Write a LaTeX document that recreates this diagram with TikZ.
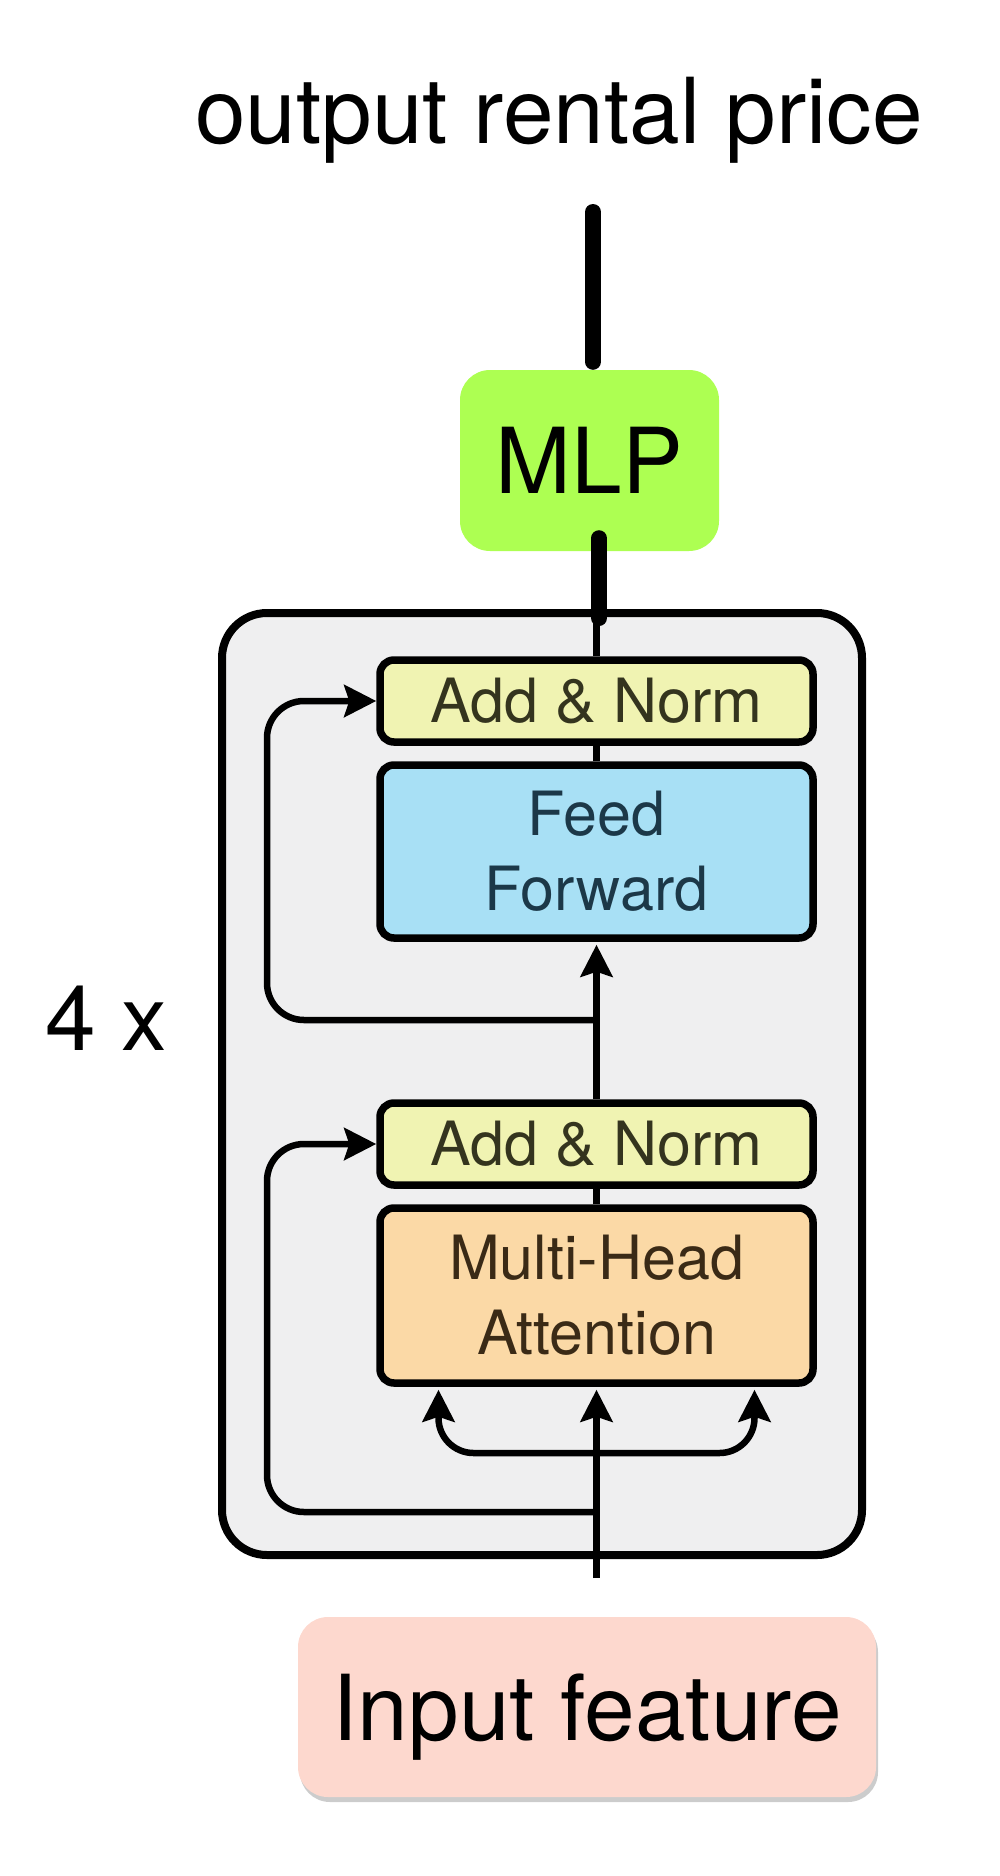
\documentclass[tikz,border=0pt]{standalone}
\usepackage{fontspec}
\setmainfont{TeX Gyre Heros}
\usetikzlibrary{arrows.meta,shadows}
\definecolor{encfill}{RGB}{239,239,240}
\definecolor{anfill}{RGB}{240,243,178}
\definecolor{fffill}{RGB}{168,224,245}
\definecolor{mhafill}{RGB}{251,217,166}
\definecolor{mlpfill}{RGB}{173,255,82}
\definecolor{inpfill}{RGB}{253,216,206}
\definecolor{antext}{RGB}{52,52,30}
\definecolor{fftext}{RGB}{28,56,72}
\definecolor{mhatext}{RGB}{58,42,22}
\begin{document}
\begin{tikzpicture}[x=1pt,y=-1pt,
  bigfont/.style={font=\fontsize{91}{100}\selectfont},
  smallfont/.style={font=\fontsize{61}{75}\selectfont},
  encoder/.style={draw=black, fill=encfill, line width=8pt, rounded corners=45pt,
    minimum width=640pt, minimum height=942pt, inner sep=0pt},
  subbox/.style={draw=black, line width=7.5pt, rounded corners=14pt,
    minimum width=433pt, align=center, inner sep=0pt, smallfont},
  conn/.style={line width=6.5pt},
  arr/.style={conn, -{Stealth[length=32pt,width=32pt,inset=5pt]}},
  thickline/.style={line width=16pt, line cap=round}
]
\useasboundingbox (0,0) rectangle (1000,1876);

% texts
\node[bigfont, anchor=base] (out) at (559,143) {output rental price};
\node[bigfont, anchor=base west, inner sep=0pt] (four) at (45,1050) {4 x};

% MLP
\node[fill=mlpfill, rounded corners=30pt, minimum width=259pt, minimum height=181pt,
  inner sep=0pt, bigfont] (mlp) at (589.5,460.5) {MLP};

% encoder block
\node[encoder] (enc) at (542,1084) {};
\node[subbox, fill=anfill, minimum height=82pt, text=antext] (an1) at (596.5,701) {Add \& Norm};
\node[subbox, fill=fffill, minimum height=173pt, text=fftext] (ff) at (596.5,851.5) {Feed\\Forward};
\node[subbox, fill=anfill, minimum height=82pt, text=antext] (an2) at (596.5,1144) {Add \& Norm};
\node[subbox, fill=mhafill, minimum height=175pt, text=mhatext] (mha) at (596.5,1295.5) {Multi-Head\\Attention};

% input
\node[fill=inpfill, rounded corners=30pt, minimum width=578pt, minimum height=180pt,
  inner sep=0pt, bigfont, text depth=0pt,
  drop shadow={shadow xshift=2pt, shadow yshift=-5pt, fill=black, opacity=0.2}] (inp) at (587,1707) {Input feature};

% coordinates
\coordinate (inStart) at (596.5,1578);
\coordinate (branch) at (596.5,1453);
\coordinate (res2) at (596.5,1512);
\coordinate (lx2) at (267,1144);
\coordinate (res1) at (596.5,1020);
\coordinate (lx1) at (267,701);
\coordinate (mlpBot) at (599,618);
\coordinate (outBot) at (593,212);

% connectors
\draw[arr, shorten >=3pt] (inStart) -- (mha.south);
\draw[arr, rounded corners=35pt, shorten >=3pt] (branch) -| ([xshift=-158pt]mha.south);
\draw[arr, rounded corners=35pt, shorten >=3pt] (branch) -| ([xshift=158pt]mha.south);
\draw[arr, rounded corners=37pt] (res2) -| (lx2) -- (an2.west);
\draw[conn] (mha.north) -- (an2.south);
\draw[arr, shorten >=3pt] (an2.north) -- (ff.south);
\draw[arr, rounded corners=37pt] (res1) -| (lx1) -- (an1.west);
\draw[conn] (ff.north) -- (an1.south);
\draw[conn] (an1.north) -- (enc.north -| an1.north);

\draw[thickline] ([xshift=9.5pt,yshift=13pt]mlp.south) -- (mlpBot);
\draw[thickline] ([xshift=3.5pt,yshift=8pt]mlp.north) -- (outBot);
\end{tikzpicture}
\end{document}
